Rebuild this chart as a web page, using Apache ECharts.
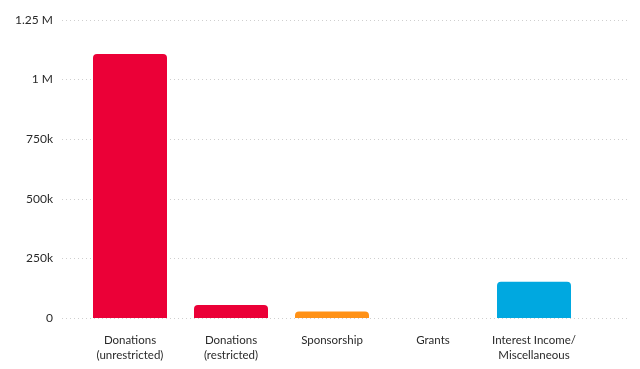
<!DOCTYPE html>
<html><head><meta charset="utf-8">
<script src="https://cdn.jsdelivr.net/npm/echarts@6/dist/echarts.min.js"></script>
<style>html,body{margin:0;padding:0;background:#fff}#c{width:640px;height:369px}</style>
</head><body><div id="c"></div>
<script>
const categories = ['Donations\n(unrestricted)', 'Donations\n(restricted)', 'Sponsorship', 'Grants', 'Interest Income/\nMiscellaneous'];
const values = [1107000, 55000, 27000, 0, 152000];
const barColors = ['#EB0037', '#EB0037', '#FF9116', '#EB0037', '#00A8E0'];
const yTicks = {0: '0', 250000: '250k', 500000: '500k', 750000: '750k', 1000000: '1 M', 1250000: '1.25 M'};

const chart = echarts.init(document.getElementById('c'), null, {renderer: 'canvas'});
const font = 'Lato, "Open Sans", sans-serif';
chart.setOption({
  animation: false,
  grid: [
    {left: 62, right: 13, top: 20, bottom: 51},
    {left: 79.5, right: 55.5, top: 20, bottom: 51}
  ],
  xAxis: [
    {gridIndex: 0, type: 'category', data: categories, show: false},
    {gridIndex: 1, type: 'category', data: categories,
     axisLine: {show: false}, axisTick: {show: false},
     axisLabel: {margin: 15, color: '#2a2a2a', fontSize: 11.5, fontFamily: font, lineHeight: 15, interval: 0}}
  ],
  yAxis: [
    {gridIndex: 0, type: 'value', min: 0, max: 1250000, interval: 250000,
     axisLine: {show: false}, axisTick: {show: false},
     splitLine: {show: true, lineStyle: {color: '#cfcfcf', type: [1, 3], width: 1}},
     axisLabel: {margin: 9, color: '#2a2a2a', fontSize: 12, fontFamily: font,
       formatter: v => yTicks[v] !== undefined ? yTicks[v] : ''}},
    {gridIndex: 1, type: 'value', min: 0, max: 1250000, interval: 250000, show: false}
  ],
  series: [{
    type: 'bar', xAxisIndex: 1, yAxisIndex: 1, barWidth: 74,
    data: values.map((v, i) => ({value: v, itemStyle: {color: barColors[i]}})),
    itemStyle: {borderRadius: [4, 4, 0, 0]}
  }]
});
</script></body></html>
